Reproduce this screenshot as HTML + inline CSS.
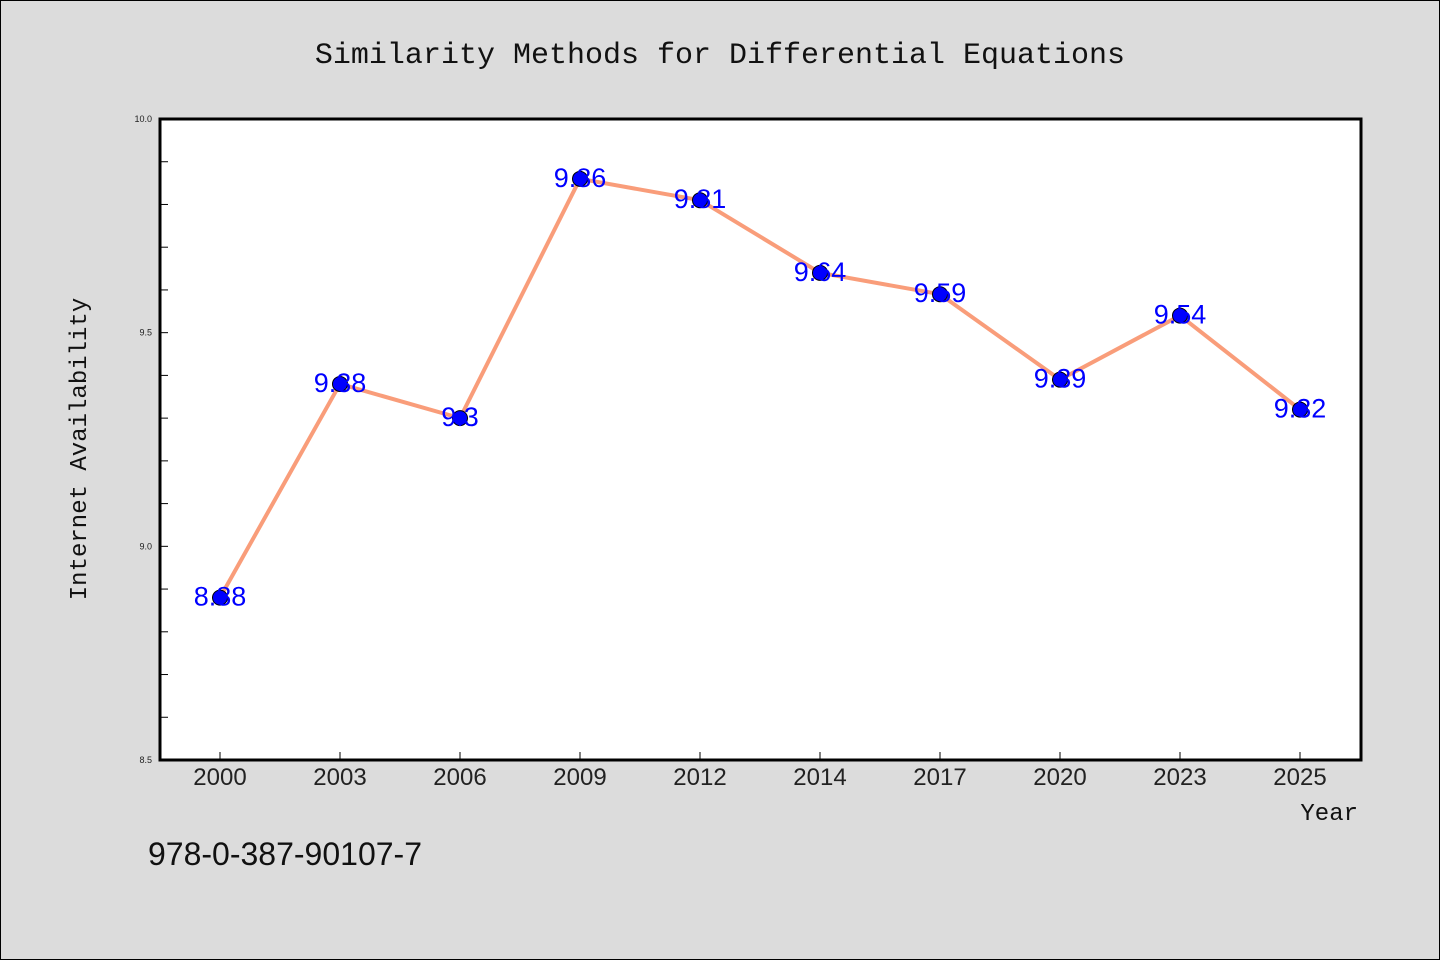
<!DOCTYPE html>
<html><head><meta charset="utf-8"><style>
body{margin:0;background:#dcdcdc;}
svg{display:block;font-family:"WenQuanYi Zen Hei","Liberation Sans",sans-serif;}
</style></head><body>
<svg id="chart" width="1440" height="960" xmlns="http://www.w3.org/2000/svg">
<rect x="0.5" y="0.5" width="1439" height="959" fill="#dcdcdc" stroke="#000"/>
<text x="720" y="63" text-anchor="middle" font-size="30" font-family="Liberation Mono, monospace" fill="#111">Similarity Methods for Differential Equations</text>
<rect x="160" y="119" width="1201" height="641" fill="#fff"/>
<g id="ticks"></g>
<g id="series"></g>
<rect x="160" y="119" width="1201" height="641" fill="none" stroke="#000" stroke-width="3"/>
<text x="86" y="449" transform="rotate(-90 86 449)" text-anchor="middle" font-size="24" font-family="Liberation Mono, monospace" fill="#111">Internet Availability</text>
<text x="1358" y="820" text-anchor="end" font-size="24" font-family="Liberation Mono, monospace" fill="#111">Year</text>
<text x="148" y="865" font-size="32" fill="#111">978-0-387-90107-7</text>
</svg>
<script>
const categories=["2000","2003","2006","2009","2012","2014","2017","2020","2023","2025"];
const values=[8.88,9.38,9.3,9.86,9.81,9.64,9.59,9.39,9.54,9.32];
const yTickLabels=["8.5","9.0","9.5","10.0"];
const NS="http://www.w3.org/2000/svg";
const x0=160,x1=1361,y0=119,y1=760,ymin=8.5,ymax=10;
const xs=i=>220+i*(1080/(categories.length-1));
const ys=v=>y1-(v-ymin)/(ymax-ymin)*(y1-y0);
function mk(t,a,p){const e=document.createElementNS(NS,t);for(const k in a)e.setAttribute(k,a[k]);p.appendChild(e);return e;}
const tg=document.getElementById('ticks'),sg=document.getElementById('series');
for(let k=0;k<=15;k++){const v=ymin+k*0.1;const y=ys(v);
 const l=mk('line',{x1:x0,x2:x0+8,y1:y,y2:y,stroke:'#000','stroke-width':1},tg);
 
 }
yTickLabels.forEach(s=>{const t=mk('text',{x:x0-8,y:ys(parseFloat(s))+3,'text-anchor':'end','font-size':9,fill:'#222'},tg);t.textContent=s;
 
 });
categories.forEach((c,i)=>{const x=xs(i);
 const l=mk('line',{x1:x,x2:x,y1:y1,y2:y1-8,stroke:'#000','stroke-width':1},tg);
 
 
 const t=mk('text',{x:x,y:785,'text-anchor':'middle','font-size':24,fill:'#222'},tg);t.textContent=c;
 
 });
const pl=mk('polyline',{points:values.map((v,i)=>xs(i)+','+ys(v)).join(' '),fill:'none',stroke:'#f99d7a','stroke-width':4,'stroke-linejoin':'round'},sg);


values.forEach((v,i)=>{
 const c=mk('circle',{cx:xs(i),cy:ys(v),r:7.5,fill:'#0000ff',stroke:'#000','stroke-width':1},sg);
 
 
 const t=mk('text',{x:xs(i),y:ys(v)+8,'text-anchor':'middle','font-size':27,fill:'#0000ff'},sg);t.textContent=String(v);
 
 });
</script>
</body></html>
